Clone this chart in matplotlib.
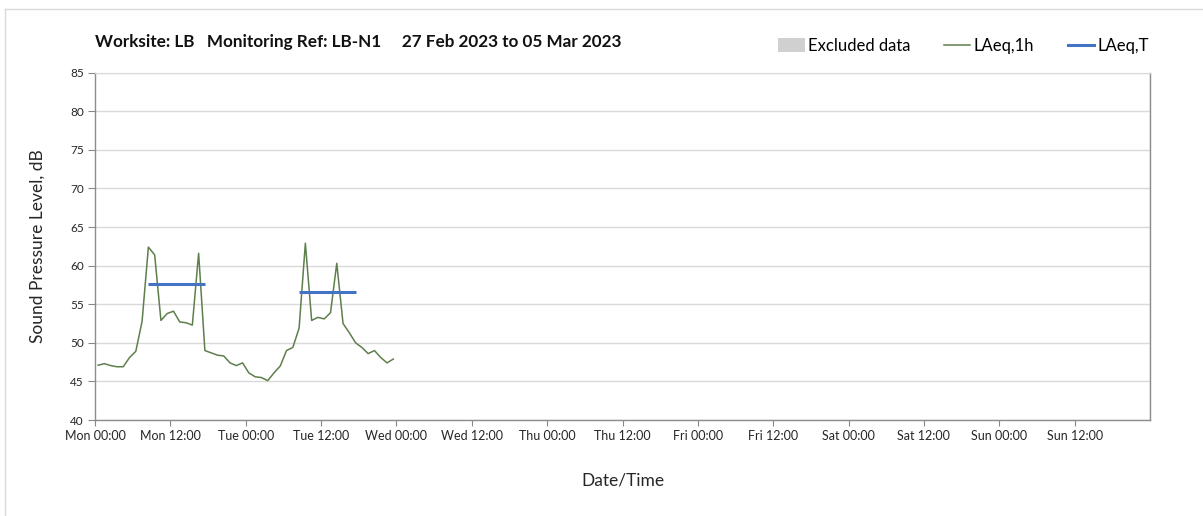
import matplotlib
matplotlib.use("Agg")
import matplotlib.pyplot as plt
from matplotlib.lines import Line2D
from matplotlib.patches import Patch
import numpy as np

plt.rcParams['font.family'] = ['Lato', 'DejaVu Sans']

# Data
hours = np.arange(48) + 0.5  # hourly sample positions (hours since Mon 00:00)
laeq_1h = [47.1, 47.3, 47.05, 46.9, 46.9, 48.1, 48.9, 52.8, 62.4, 61.4,
           52.9, 53.8, 54.1, 52.7, 52.6, 52.3, 61.6, 49.0, 48.7, 48.4,
           48.3, 47.4, 47.05, 47.4, 46.1, 45.6, 45.5, 45.1, 46.1, 47.0,
           49.0, 49.4, 51.9, 62.9, 52.9, 53.3, 53.1, 53.9, 60.3, 52.5,
           51.3, 50.0, 49.4, 48.6, 49.0, 48.1, 47.4, 47.9]
laeq_t_start = [8.5, 32.5]
laeq_t_end = [17.5, 41.5]
laeq_t_value = [57.6, 56.6]
tick_labels = ["Mon 00:00", "Mon 12:00", "Tue 00:00", "Tue 12:00", "Wed 00:00",
               "Wed 12:00", "Thu 00:00", "Thu 12:00", "Fri 00:00", "Fri 12:00",
               "Sat 00:00", "Sat 12:00", "Sun 00:00", "Sun 12:00"]

W, H = 1203, 516
fig = plt.figure(figsize=(W / 100, H / 100), dpi=100)
ax = fig.add_axes([95 / W, 1 - 420 / H, (1150 - 95) / W, (420 - 72.7) / H])

green = '#5e7f4c'
blue = '#4472C4'
grid = '#d9d9d9'

ax.plot(hours, laeq_1h, color=green, lw=1.1, zorder=3)
for s, e, v in zip(laeq_t_start, laeq_t_end, laeq_t_value):
    ax.plot([s, e], [v, v], color=blue, lw=2.2, zorder=4, solid_capstyle='butt')

ax.set_xlim(0, 168)
ax.set_ylim(40, 85)
ax.set_yticks(np.arange(40, 86, 5))
ax.set_xticks(np.arange(0, 168, 12))
ax.set_xticklabels(tick_labels)
ax.set_xticks(np.arange(0, 169, 24), minor=True)
ax.tick_params(axis='x', which='major', length=4, color='#888888', labelsize=9,
               labelcolor='#262626', pad=3)
ax.tick_params(axis='x', which='minor', length=0)
ax.tick_params(axis='y', length=5, color='#888888', labelsize=8.5, labelcolor='#262626', pad=3)
ax.grid(axis='y', color=grid, lw=1.0)
ax.grid(axis='x', which='minor', color=grid, lw=1.0)
ax.set_axisbelow(True)
for side in ['left', 'bottom', 'right']:
    ax.spines[side].set_color('#8c8c8c')
    ax.spines[side].set_linewidth(1.0)
ax.spines['top'].set_color(grid)

ax.set_xlabel("Date/Time", fontsize=12.5, color='#262626', labelpad=22)
ax.set_ylabel("Sound Pressure Level, dB", fontsize=12.5, color='#262626', labelpad=18)

fig.text(95 / W, 1 - 42 / H, "Worksite: LB   Monitoring Ref: LB-N1     27 Feb 2023 to 05 Mar 2023",
         fontsize=12.3, fontweight='bold', va='center', ha='left', color='#111111')

handles = [Patch(facecolor='#d0d0d0', edgecolor='none'),
           Line2D([], [], color=green, lw=1.1),
           Line2D([], [], color=blue, lw=2.2)]
fig.legend(handles, ["Excluded data", "LAeq,1h", "LAeq,T"], loc='center left',
           bbox_to_anchor=(763 / W, 1 - 46 / H), ncol=3, frameon=False, fontsize=12,
           handlelength=1.6, handletextpad=0.2, columnspacing=2.0, handleheight=0.9)

# outer frame lines
fig.add_artist(Line2D([5 / W, 5 / W], [0, 1 - 9 / H], color=grid, lw=1.0, transform=fig.transFigure))
fig.add_artist(Line2D([5 / W, 1], [1 - 9 / H, 1 - 9 / H], color=grid, lw=1.0, transform=fig.transFigure))

fig.savefig("out.png", dpi=100, facecolor='white')
